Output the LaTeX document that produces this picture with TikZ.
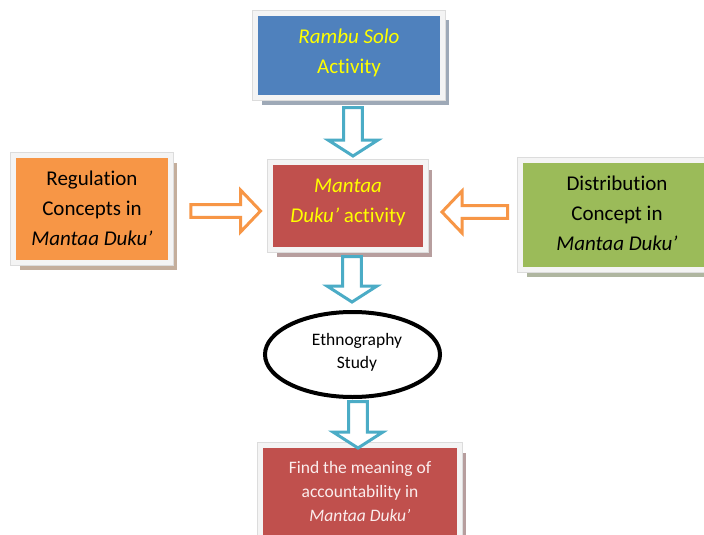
\documentclass[tikz,border=0pt]{standalone}
\usepackage{fontspec}
\setmainfont[Ligatures=NoCommon]{Carlito}
\usetikzlibrary{shapes.geometric,shadows,calc}
\definecolor{cblue}{HTML}{4F81BD}
\definecolor{corange}{HTML}{F79646}
\definecolor{cred}{HTML}{C0504D}
\definecolor{cgreen}{HTML}{9BBB59}
\definecolor{caqua}{HTML}{4BACC6}
\definecolor{cyel}{HTML}{FFFF00}
\definecolor{cpale}{HTML}{FBEDED}
\definecolor{framegray}{HTML}{DCDCDC}
\definecolor{framein}{HTML}{F4F4F4}
\newcommand\bsw{9.3pt}
\newcommand\bhw{25pt}
\newcommand\bhl{16pt}
\newcommand\osw{6.3pt}
\newcommand\ohw{21pt}
\newcommand\ohl{20pt}
\tikzset{
  box/.style={rectangle, inner sep=0pt, outer sep=0pt,
    drop shadow={shadow xshift=6pt, shadow yshift=-7pt,
      fill=#1!50!black!45!white, opacity=1},
    preaction={draw=framegray, line width=6.6pt},
    fill=#1, draw=framein, line width=5pt},
  boxtext/.style={align=center, inner sep=0pt,
    font=\fontsize{21}{30}\selectfont},
  blueblock/.style={draw=caqua, fill=white, line width=3pt},
  orangeblock/.style={draw=corange, fill=white, line width=3pt}
}
\newcommand\vblock[2]{%
  \draw[blueblock] let \p1=(#1), \p2=(#2) in
    (\x1-\bsw,\y1) -- (\x1+\bsw,\y1) -- (\x1+\bsw,\y2+\bhl) --
    (\x1+\bhw,\y2+\bhl) -- (\x1,\y2) -- (\x1-\bhw,\y2+\bhl) --
    (\x1-\bsw,\y2+\bhl) -- cycle;}
\newcommand\hblock[2]{%
  \draw[orangeblock] let \p1=(#1), \p2=(#2), \n1={sign(\x2-\x1)} in
    (\x1,\y2+\osw) -- (\x2-\n1*\ohl,\y2+\osw) -- (\x2-\n1*\ohl,\y2+\ohw) --
    (\x2,\y2) -- (\x2-\n1*\ohl,\y2-\ohw) -- (\x2-\n1*\ohl,\y2-\osw) --
    (\x1,\y2-\osw) -- cycle;}
\begin{document}
\begin{tikzpicture}[x=1pt,y=-1pt]
\useasboundingbox[fill=white] (0,0) rectangle (704,535);

% boxes
\node[box=cblue, minimum width=187pt, minimum height=84pt] (rb) at (349,55.5) {};
\node[boxtext, text=cyel] (rbt) at ($(rb)+(0,-3)$) {\textit{Rambu Solo}\\Activity};

\node[box=corange, minimum width=157pt, minimum height=107pt] (reg) at (92,209) {};
\node[boxtext] (regt) at ($(reg)+(0,-0.8)$) {Regulation\\Concepts in\\\textit{Mantaa Duku’}};

\node[box=cred, minimum width=155pt, minimum height=87pt] (md) at (348,206) {};
\node[boxtext, text=cyel] (mdt) at ($(md)+(0,-3.5)$) {\textit{Mantaa}\\\textit{Duku’} activity};

\node[box=cgreen, minimum width=200pt, minimum height=109pt] (dist) at (620.5,215) {};
\node[boxtext] (distt) at ($(dist)+(-3.5,-1.5)$) {Distribution\\Concept in\\\textit{Mantaa Duku’}};

\node[ellipse, draw=black, line width=4pt, fill=white, inner sep=0pt, outer sep=0pt,
  minimum width=175pt, minimum height=85pt] (eth) at (352.5,354.5) {};
\node[align=center, inner sep=0pt, font=\fontsize{17.5}{23}\selectfont] (etht)
  at ($(eth)+(4.5,-2)$) {Ethnography\\Study};

\node[box=cred, minimum width=199pt, minimum height=93pt] (find) at (360,492) {};
\node[align=center, inner sep=0pt, font=\fontsize{17.5}{24}\selectfont, text=cpale] (findt)
  at ($(find)+(0,-0.5)$) {Find the meaning of\\accountability in\\\textit{Mantaa Duku’}};

% connectors
\coordinate (a1s) at ($(rb.south)+(4,10)$);
\coordinate (a1e) at ($(md.north)+(5,-6.5)$);
\vblock{a1s}{a1e}
\coordinate (a2s) at ($(md.south)+(4,7)$);
\coordinate (a2e) at ($(eth.north)+(0,-10)$);
\vblock{a2s}{a2e}
\coordinate (a3s) at ($(eth.south)+(5.5,4.5)$);
\coordinate (a3e) at ($(find.north)+(0,2.5)$);
\vblock{a3s}{a3e}
\coordinate (o1s) at ($(reg.east)+(20.3,2)$);
\coordinate (o1e) at ($(md.west)+(-10,5)$);
\hblock{o1s}{o1e}
\coordinate (o2s) at ($(dist.west)+(-13,-3)$);
\coordinate (o2e) at ($(md.east)+(16.5,6)$);
\hblock{o2s}{o2e}
\end{tikzpicture}
\end{document}
